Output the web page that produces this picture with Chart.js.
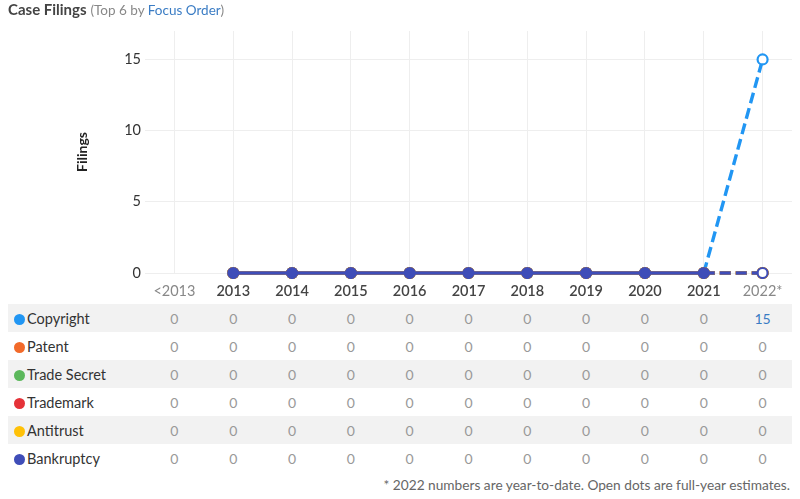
<!DOCTYPE html>
<html>
<head>
<meta charset="utf-8">
<script src="https://cdn.jsdelivr.net/npm/chart.js@4"></script>
<style>
  body { margin: 0; background: #fff; font-family: Lato, sans-serif; }
  #wrap { position: relative; width: 800px; height: 499px; }
  #title { position: absolute; left: 8px; top: 0px; font-size: 15px; color: #444; }
  #title b { font-weight: 700; }
  #title .sub { font-size: 13.5px; color: #888; }
  #title .link { color: #3a7cc4; }
  #chart-box { position: absolute; left: 0; top: 0; width: 800px; height: 300px; }
  #case-table { position: absolute; left: 8px; top: 304px; border-collapse: collapse; table-layout: fixed; }
  #case-table td { height: 28px; padding: 0; font-size: 14px; color: #999; text-align: center; }
  #case-table tr:nth-of-type(odd) td { background: #f2f2f2; }
  #case-table td.name { text-align: left; color: #333; padding-left: 6px; white-space: nowrap; font-size: 14.5px; }
  .dot { display: inline-block; width: 11px; height: 11px; border-radius: 50%; vertical-align: -1px; margin-right: 2px; }
  #note { position: absolute; right: 10px; top: 476px; font-size: 13.7px; color: #666; }
</style>
</head>
<body>
<div id="wrap">
  <div id="chart-box"><canvas id="case-chart" width="800" height="300"></canvas></div>
  <div id="title"><b>Case Filings</b> <span class="sub">(Top 6 by <span class="link">Focus Order</span>)</span></div>
  <table id="case-table"></table>
  <div id="note">* 2022 numbers are year-to-date. Open dots are full-year estimates.</div>
</div>
<script>
const years = ['<2013', '2013', '2014', '2015', '2016', '2017', '2018', '2019', '2020', '2021', '2022*'];
const y_ticks = [0, 5, 10, 15];

const series_names = ['Copyright', 'Patent', 'Trade Secret', 'Trademark', 'Antitrust', 'Bankruptcy'];
const series_colors = ['#2196f3', '#f26a2a', '#5cb85c', '#e53238', '#ffc107', '#3f4db8'];

const copyright = [0, 0, 0, 0, 0, 0, 0, 0, 0, 0, 15];
const patent = [0, 0, 0, 0, 0, 0, 0, 0, 0, 0, 0];
const trade_secret = [0, 0, 0, 0, 0, 0, 0, 0, 0, 0, 0];
const trademark = [0, 0, 0, 0, 0, 0, 0, 0, 0, 0, 0];
const antitrust = [0, 0, 0, 0, 0, 0, 0, 0, 0, 0, 0];
const bankruptcy = [0, 0, 0, 0, 0, 0, 0, 0, 0, 0, 0];

const series_values = [copyright, patent, trade_secret, trademark, antitrust, bankruptcy];
const last = years.length - 1;

// chart skips the <2013 column, the table still shows it
const datasets = series_names.map((name, s) => {
  const color = series_colors[s];
  return {
    label: name,
    data: series_values[s].map((v, i) => i === 0 ? null : v),
    borderColor: color,
    backgroundColor: color,
    borderWidth: 3.4,
    pointRadius: 5,
    pointHoverRadius: 5,
    pointBorderWidth: 2.2,
    pointBorderColor: color,
    pointBackgroundColor: ctx => ctx.dataIndex === last ? '#fff' : color,
    order: series_names.length - 1 - s,
    clip: 6,
    segment: {
      borderDash: ctx => ctx.p1DataIndex === last ? [11, 5] : undefined
    }
  };
});

const case_chart = new Chart(document.getElementById('case-chart'), {
  type: 'line',
  data: { labels: years, datasets: datasets },
  options: {
    responsive: false,
    animation: false,
    layout: { padding: { left: 74, right: 8, top: 31, bottom: 0 } },
    plugins: { legend: { display: false }, tooltip: { enabled: false } },
    scales: {
      x: {
        offset: true,
        grid: { color: '#eeeeee', offset: false, drawTicks: false },
        border: { display: false },
        ticks: {
          padding: 10,
          font: ctx => ({ family: 'Lato', size: 14.5, weight: (ctx.index === 0 || ctx.index === last) ? 'normal' : '600' }),
          color: ctx => (ctx.index === 0 || ctx.index === last) ? '#888' : '#444'
        },
        afterFit: axis => { axis.height = 27; }
      },
      y: {
        min: 0,
        max: 17,
        afterBuildTicks: axis => { axis.ticks = y_ticks.map(v => ({ value: v })); },
        grid: { color: '#eeeeee', drawTicks: false },
        border: { display: false },
        ticks: { padding: 4, font: { family: 'Lato', size: 14.5 }, color: '#333' },
        title: { display: true, text: 'Filings', font: { family: 'Lato', size: 14, weight: 'bold' }, color: '#222', padding: 0 },
        afterFit: axis => { axis.width = 71; }
      }
    }
  }
});

// table columns line up under the chart's categories
const area = case_chart.chartArea;
const col_w = (area.right - area.left) / years.length;
const table = document.getElementById('case-table');
const cols = document.createElement('colgroup');
let c = document.createElement('col');
c.style.width = (area.left - 8) + 'px';
cols.appendChild(c);
years.forEach(() => {
  c = document.createElement('col');
  c.style.width = col_w + 'px';
  cols.appendChild(c);
});
table.appendChild(cols);
table.style.width = (area.right - 8) + 'px';

series_names.forEach((name, s) => {
  const tr = document.createElement('tr');
  const td = document.createElement('td');
  td.className = 'name';
  td.innerHTML = `<span class="dot" style="background:${series_colors[s]}"></span>${name}`;
  tr.appendChild(td);
  series_values[s].forEach(v => {
    const cell = document.createElement('td');
    cell.textContent = v;
    if (v > 0) cell.style.color = '#3a7cc4';
    tr.appendChild(cell);
  });
  table.appendChild(tr);
});
</script>
</body>
</html>
